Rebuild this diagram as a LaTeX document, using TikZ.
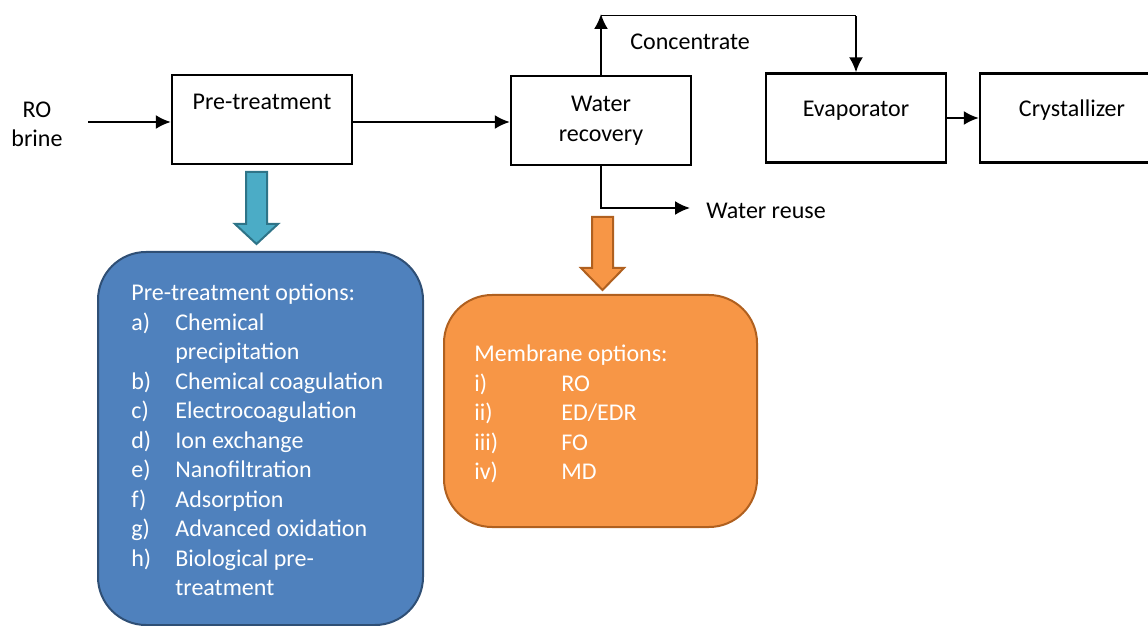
\documentclass[tikz,border=0pt]{standalone}
\usepackage{fontspec}
\setmainfont{Carlito}
\usetikzlibrary{arrows.meta}
\definecolor{bluefill}{HTML}{4F81BD}
\definecolor{blueline}{HTML}{2F4F75}
\definecolor{tealfill}{HTML}{4BACC6}
\definecolor{tealline}{HTML}{2E7488}
\definecolor{orangefill}{HTML}{F79646}
\definecolor{orangeline}{HTML}{B0601F}
\begin{document}
\begin{tikzpicture}[x=0.5pt,y=-0.5pt,
  font=\fontsize{12}{14.75}\selectfont,
  procbox/.style={draw,line width=1.2pt,minimum width=90pt,minimum height=44.5pt,inner sep=0pt},
  flow/.style={line width=1pt,-{Latex[length=7.5pt,width=7pt]}},
  txt/.style={anchor=base,inner sep=0pt,yshift=-1pt},
  txtw/.style={anchor=base west,inner sep=0pt,yshift=-1pt},
  wtxt/.style={anchor=base west,inner sep=0pt,text=white,yshift=-1pt},
  optbox/.style={line width=1pt,rounded corners=24pt,inner sep=0pt}]
\useasboundingbox (0,0) rectangle (1148,626);
% process boxes
\node[procbox] (pt) at (262,119.5) {};
\node[procbox] (wr) at (601,120.5) {};
\node[procbox] (ev) at (856,118) {};
\node[procbox] (cr) at (1070,118) {};
% box texts
\node[txt] (ptt) at (262,108) {Pre-treatment};
\node[txt] (wrt1) at (601,110) {Water};
\node[txt] (wrt2) at (601,140) {recovery};
\node[txt] (evt) at (856,115) {Evaporator};
\node[txt] (crt) at (1072,115) {Crystallizer};
% input
\node[txt] (ro) at (37,116) {RO};
\node[txt] (br) at (37,145) {brine};
\coordinate (inp) at (88,122);
\draw[flow] (inp) -- (inp -| pt.west);
\draw[flow] (pt.east |- 0,122) coordinate (pte) -- (pte -| wr.west);
\draw[flow] (ev.east) -- (cr.west);
% concentrate
\coordinate (c1) at (601,14);
\coordinate (c2) at (856,16);
\draw[flow] (wr.north) -- (c1);
\draw[line width=0.5pt] (601,16) coordinate (c0) -- (c2);
\draw[flow] (c2) -- (ev.north);
\node[txtw] (conc) at (630,48) {Concentrate};
% water reuse
\coordinate (wro) at (690,208);
\draw[flow] (wr.south) |- (wro);
\node[txtw] (wrl) at (706,217) {Water reuse};
% block arrows
\draw[fill=tealfill,draw=tealline,line width=1pt]
  (246,172) -- (267,172) -- (267,224) -- (278,224) -- (256.5,244) -- (235,224) -- (246,224) -- cycle;
\draw[fill=orangefill,draw=orangeline,line width=1pt]
  (592,217) -- (613,217) -- (613,268) -- (624,268) -- (602.5,290) -- (581,268) -- (592,268) -- cycle;
% option boxes
\draw[optbox,fill=bluefill,draw=blueline] (98,252) rectangle (423,625);
\draw[optbox,fill=orangefill,draw=orangeline] (444,295) rectangle (757,527);
% pre-treatment options
\node[wtxt] (po) at (131,298) {Pre-treatment options:};
\node[wtxt] (la) at (131,328) {a)};
\node[wtxt] (ta) at (175,328) {Chemical};
\node[wtxt] (ta2) at (175,357.5) {precipitation};
\node[wtxt] (lb) at (131,387) {b)};
\node[wtxt] (tb) at (175,387) {Chemical coagulation};
\node[wtxt] (lc) at (131,416.5) {c)};
\node[wtxt] (tc) at (175,416.5) {Electrocoagulation};
\node[wtxt] (ld) at (131,446) {d)};
\node[wtxt] (td) at (175,446) {Ion exchange};
\node[wtxt] (le) at (131,475.5) {e)};
\node[wtxt] (te) at (175,475.5) {Nanofiltration};
\node[wtxt] (lf) at (131,505) {f)};
\node[wtxt] (tf) at (175,505) {Adsorption};
\node[wtxt] (lg) at (131,534.5) {g)};
\node[wtxt] (tg) at (175,534.5) {Advanced oxidation};
\node[wtxt] (lh) at (131,564) {h)};
\node[wtxt] (th) at (175,564) {Biological pre-};
\node[wtxt] (th2) at (175,593.5) {treatment};
% membrane options
\node[wtxt] (mo) at (474,360) {Membrane options:};
\node[wtxt] (li) at (474,389.5) {i)};
\node[wtxt] (mi) at (561,389.5) {RO};
\node[wtxt] (lii) at (474,419) {ii)};
\node[wtxt] (mii) at (561,419) {ED/EDR};
\node[wtxt] (liii) at (474,448.5) {iii)};
\node[wtxt] (miii) at (561,448.5) {FO};
\node[wtxt] (liv) at (474,478) {iv)};
\node[wtxt] (miv) at (561,478) {MD};
\end{tikzpicture}
\end{document}
